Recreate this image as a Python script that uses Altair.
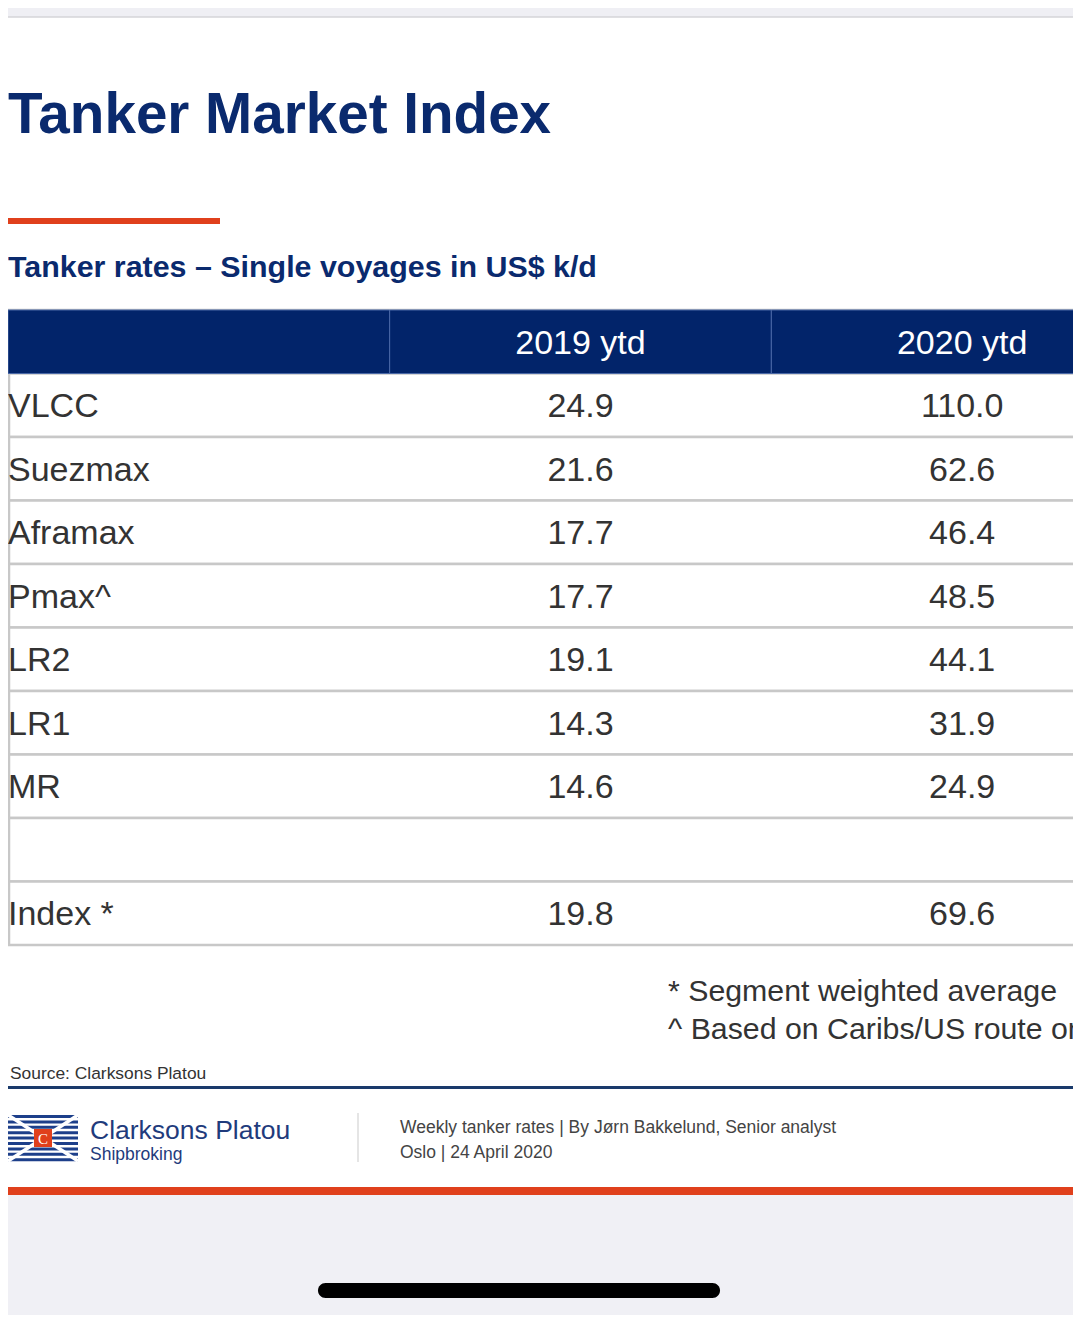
import altair as alt
import pandas as pd

# ---------------- data ----------------
title = "Tanker Market Index"
subtitle = "Tanker rates – Single voyages in US$ k/d"
columns = ["", "2019 ytd", "2020 ytd"]
segments = ["VLCC", "Suezmax", "Aframax", "Pmax^", "LR2", "LR1", "MR", "", "Index *"]
v2019 = [24.9, 21.6, 17.7, 17.7, 19.1, 14.3, 14.6, None, 19.8]
v2020 = [110.0, 62.6, 46.4, 48.5, 44.1, 31.9, 24.9, None, 69.6]
footnotes = ["* Segment weighted average", "^ Based on Caribs/US route only"]
source = "Source: Clarksons Platou"
brand = ["Clarksons Platou", "Shipbroking"]
footer_lines = ["Weekly tanker rates | By Jørn Bakkelund, Senior analyst",
                "Oslo | 24 April 2020"]

# ---------------- style ----------------
W, H = 1065, 1307
FONT = "Liberation Sans"
NAVY = "#0a2a6e"
HEAD_NAVY = "#02246a"
ORANGE = "#e0401c"
GRID = "#c8c8c8"
DARK = "#333333"

row_keys = ["head"] + [f"r{i}" for i in range(len(segments))]
col_keys = ["seg", "y2019", "y2020"]

xs = alt.Scale(type="band", domain=col_keys, range=[0, 1145], paddingInner=0, paddingOuter=0)
ys = alt.Scale(type="band", domain=row_keys, range=[302, 937], paddingInner=0, paddingOuter=0)

header_df = pd.DataFrame({"row": ["head"] * 3, "col": col_keys, "txt": columns})
rows_df = pd.DataFrame({"row": row_keys})

label_df = pd.DataFrame({"row": row_keys[1:], "col": "seg", "txt": segments})
vals = []
for i in range(len(segments)):
    for c, arr in (("y2019", v2019), ("y2020", v2020)):
        v = arr[i]
        vals.append({"row": f"r{i}", "col": c, "txt": "" if v is None else f"{v:.1f}"})
vals_df = pd.DataFrame(vals)

one = pd.DataFrame({"k": [0]})


def rect(x, x2, y, y2, color, **kw):
    return alt.Chart(one).mark_rect(fill=color, **kw).encode(
        x=alt.value(x), x2=alt.value(x2), y=alt.value(y), y2=alt.value(y2))


def rule(x, x2, y, y2, color, width):
    return alt.Chart(one).mark_rule(color=color, strokeWidth=width).encode(
        x=alt.value(x), x2=alt.value(x2), y=alt.value(y), y2=alt.value(y2))


def label(text, x, y, size, color, weight="normal", align="left", font=FONT):
    return alt.Chart(one).mark_text(
        text=text, align=align, baseline="alphabetic", fontSize=size,
        font=font, fontWeight=weight, color=color).encode(x=alt.value(x), y=alt.value(y))


layers = []

# top status strip
layers.append(rect(0, W, 0, 9, "#efeff4"))
layers.append(rule(0, W, 9, 9, "#d4d4d8", 1.5))

# titles
layers.append(label(title, 0, 125, 56.6, NAVY, weight="bold"))
layers.append(rect(-1, 212, 210, 216, ORANGE))
layers.append(label(subtitle, 0, 269, 30.4, NAVY, weight="bold"))

# table row backgrounds with gray borders
layers.append(alt.Chart(rows_df).mark_rect(fill="white", stroke=GRID, strokeWidth=2.5).encode(
    y=alt.Y("row:N", scale=ys, axis=None),
    x=alt.value(1), x2=alt.value(1300)))

# header cells
layers.append(alt.Chart(header_df).mark_rect(fill=HEAD_NAVY, stroke="#4a68a6", strokeWidth=1).encode(
    x=alt.X("col:N", scale=xs, axis=None),
    y=alt.Y("row:N", scale=ys, axis=None)))
layers.append(alt.Chart(header_df).mark_text(
    color="white", fontSize=34, font=FONT, baseline="alphabetic", dy=12).encode(
    x=alt.X("col:N", scale=xs, axis=None),
    y=alt.Y("row:N", scale=ys, axis=None),
    text="txt:N"))

# row labels
layers.append(alt.Chart(label_df).mark_text(
    color=DARK, fontSize=34, font=FONT, align="left", baseline="alphabetic", dy=12).encode(
    x=alt.X("col:N", scale=xs, axis=None, bandPosition=0),
    y=alt.Y("row:N", scale=ys, axis=None),
    text="txt:N"))

# values
layers.append(alt.Chart(vals_df).mark_text(
    color=DARK, fontSize=34, font=FONT, align="center", baseline="alphabetic", dy=12).encode(
    x=alt.X("col:N", scale=xs, axis=None),
    y=alt.Y("row:N", scale=ys, axis=None),
    text="txt:N"))

# footnotes
layers.append(label(footnotes[0], 660, 993, 30.3, DARK))
layers.append(label(footnotes[1], 660, 1031, 30.3, DARK))

# source + separator
layers.append(label(source, 2, 1071, 17.4, DARK))
layers.append(rect(0, W, 1078, 1081, "#1a3a6b"))

# logo (stylised flag)
layers.append(rect(0, 70, 1107, 1153, "white"))
for k in range(9):
    yy = 1108.5 + k * 5.4
    layers.append(rule(0, 70, yy, yy, "#1d3f8a", 3))
layers.append(rule(0, 70, 1107, 1153, "white", 3.5))
layers.append(rule(0, 70, 1153, 1107, "white", 3.5))
layers.append(rect(26, 44, 1121, 1139, "#e0401c"))
layers.append(label("C", 35, 1135.5, 15, "white", align="center", font="Liberation Serif"))
layers.append(label(brand[0], 82, 1131, 26.5, "#1f3b7c"))
layers.append(label(brand[1], 82, 1152, 17.5, "#1f3b7c"))

# vertical divider
layers.append(rule(350, 350, 1105, 1154, "#dcdcdc", 1.5))

# footer text
layers.append(label(footer_lines[0], 392, 1125, 17.5, "#444444"))
layers.append(label(footer_lines[1], 392, 1150, 17.5, "#444444"))

# bottom orange bar and gray area
layers.append(rect(0, W, 1179, 1187, ORANGE))
layers.append(rect(0, W, 1187, H, "#f0f0f5"))
layers.append(rect(310, 712, 1275, 1290, "black", cornerRadius=7.5))

chart = alt.layer(*layers).properties(
    width=W, height=H,
    autosize=alt.AutoSizeParams(type="none"),
    padding=0,
    background="white",
).configure_view(stroke=None)

chart.save("out.html", embed_options={"renderer": "svg", "actions": False})
